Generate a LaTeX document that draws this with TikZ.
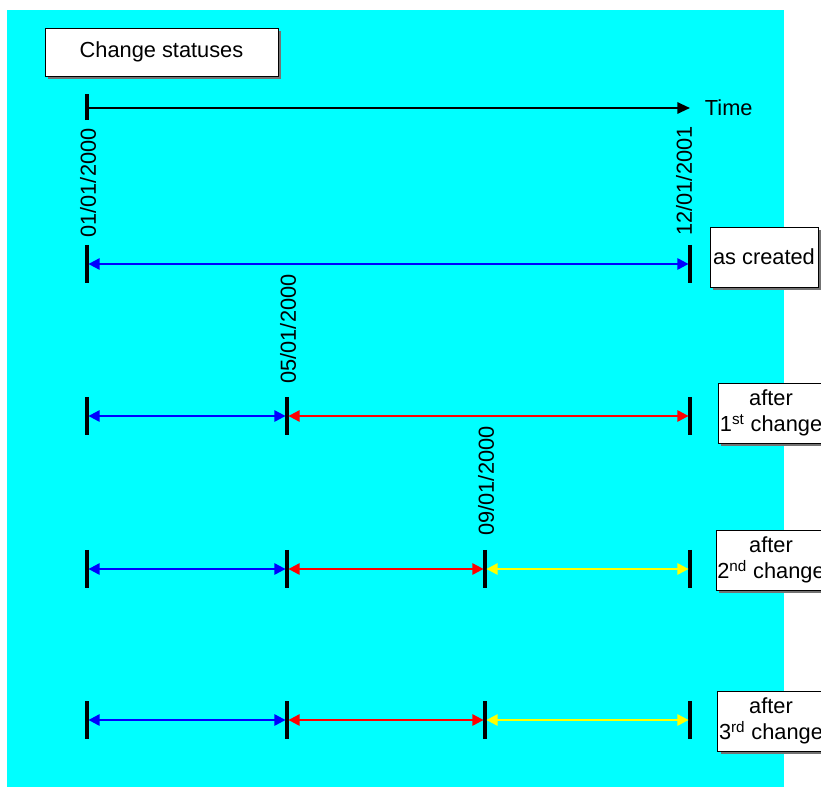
\documentclass[tikz,border=0pt]{standalone}
\usepackage{fontspec}
\setmainfont{Liberation Sans}
\usetikzlibrary{arrows.meta,shadows}
\definecolor{bgcyan}{RGB}{0,255,255}
\definecolor{lineyellow}{RGB}{255,255,0}
\begin{document}
\begin{tikzpicture}[
        x=0.025cm, y=-0.025cm,
        font=\fontsize{15.5}{18.5}\selectfont,
        tick/.style={line width=2.3pt, black},
        span/.style={line width=1.5pt, {Triangle[length=8pt,width=8pt]}-{Triangle[length=8pt,width=8pt]}},
        labelbox/.style={draw=black, fill=white, thin, inner sep=1pt, align=center,
            drop shadow={shadow xshift=0.075cm, shadow yshift=-0.075cm, fill=black!55, opacity=1}},
        datelabel/.style={rotate=90, inner sep=0pt}
    ]

    % Hintergrund
    \useasboundingbox[fill=white] (0,0) rectangle (821,787);
    \fill[bgcyan] (7,10) rectangle (784,787);

    % Titel
    \node[labelbox, minimum width=5.825cm, minimum height=1.2cm] (title) at (161.5,52) {Change statuses};

    % Zeitachse
    \coordinate (t0) at (87,108);
    \coordinate (t1) at (690,108);
    \draw[line width=1.5pt, -{Triangle[length=9pt,width=8pt]}] (t0) -- (t1);
    \draw[tick] ([yshift=-0.3cm]t0) -- ([yshift=0.35cm]t0);
    \node[anchor=west] (time) at (700,108) {Time};

    % Datumsangaben
    \node[datelabel] (d0) at (88,183) {01/01/2000};
    \node[datelabel] (d3) at (684,181) {12/01/2001};
    \node[datelabel] (d1) at (288,329) {05/01/2000};
    \node[datelabel] (d2) at (486,481) {09/01/2000};

    % Zeilen: Markierungen
    \foreach \row/\y in {a/264, b/416, c/569, d/720} {
        \coordinate (\row0) at (87,\y);
        \coordinate (\row1) at (287,\y);
        \coordinate (\row2) at (485,\y);
        \coordinate (\row3) at (690,\y);
    }
    \foreach \p in {a0,a3,b0,b1,b3,c0,c1,c2,c3,d0,d1,d2,d3}
        \draw[tick] ([yshift=0.475cm]\p) -- ([yshift=-0.475cm]\p);

    % wie angelegt
    \draw[span, blue] ([xshift=1pt]a0) -- ([xshift=-1pt]a3);

    % nach 1. Aenderung
    \draw[span, blue] ([xshift=1pt]b0) -- ([xshift=-1pt]b1);
    \draw[span, red] ([xshift=1pt]b1) -- ([xshift=-1pt]b3);

    % nach 2. und 3. Aenderung
    \foreach \row in {c,d} {
        \draw[span, blue] ([xshift=1pt]\row0) -- ([xshift=-1pt]\row1);
        \draw[span, red] ([xshift=1pt]\row1) -- ([xshift=-1pt]\row2);
        \draw[span, lineyellow] ([xshift=1pt]\row2) -- ([xshift=-1pt]\row3);
    }

    % Beschriftungen rechts
    \node[labelbox, minimum width=2.7cm, minimum height=1.5cm] (created) at (764,257) {as created};
    \node[labelbox, minimum width=2.65cm, minimum height=1.5cm] (first) at (771,413) {after\\1\textsuperscript{st} change};
    \node[labelbox, minimum width=2.65cm, minimum height=1.5cm] (second) at (771,560) {after\\2\textsuperscript{nd} change};
    \node[labelbox, minimum width=2.65cm, minimum height=1.5cm] (third) at (771,721) {after\\3\textsuperscript{rd} change};

\end{tikzpicture}
\end{document}
